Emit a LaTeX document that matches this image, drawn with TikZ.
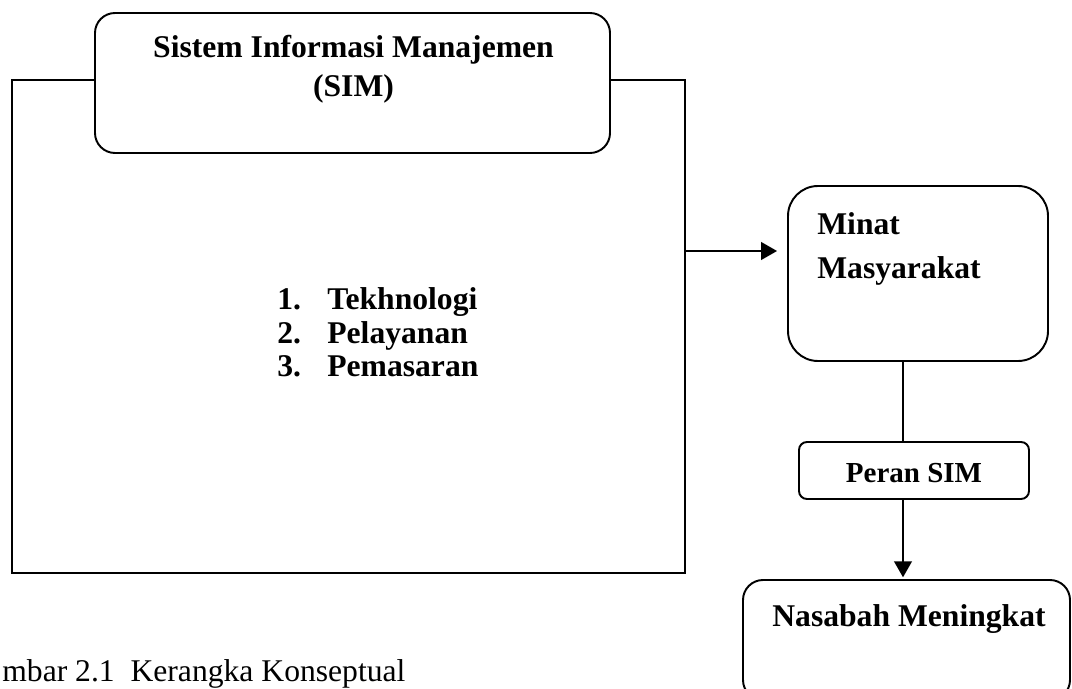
\documentclass[tikz,border=0pt]{standalone}
\usepackage{fontspec}
\setmainfont{Liberation Serif}
\usetikzlibrary{arrows.meta}

\tikzset{
    box/.style={draw, line width=1.1pt, minimum width=#1, inner sep=0pt},
    txt/.style={font=\fontsize{18}{22}\selectfont\bfseries, anchor=base, inner sep=0pt},
    conn/.style={line width=1.1pt},
    arr/.style={conn, -{Triangle[length=9pt, width=10pt]}}
}

\begin{document}
\begin{tikzpicture}[x=0.02cm, y=-0.02cm]
    \useasboundingbox (0,0) rectangle (1072,689);
    \clip (0,0) rectangle (1072,689);
    \fill [white] (0,0) rectangle (1072,689);
    % boxes
    \node [box=673*0.02cm, minimum height=493*0.02cm] (main) at (348.5,326.5) {};
    \node [box=515*0.02cm, minimum height=140*0.02cm, rounded corners=0.4cm, fill=white] (sim) at (352.5,83) {};
    \node [box=260*0.02cm, minimum height=175*0.02cm, rounded corners=0.6cm] (minat) at (918,273.5) {};
    \node [box=230*0.02cm, minimum height=57*0.02cm, rounded corners=0.16cm] (peran) at (914,470.5) {};
    \node [box=327*0.02cm, minimum height=120*0.02cm, rounded corners=0.4cm] (nasabah) at (906.5,640) {};
    % texts
    \node [txt] (simA) at (353.5,58) {Sistem Informasi Manajemen};
    \node [txt] (simB) at (353.5,97) {(SIM)};
    \foreach \n/\item/\y in {1/Tekhnologi/310, 2/Pelayanan/343, 3/Pemasaran/377} {
        \node [txt, anchor=base west] (num\n) at (277,\y) {\n.};
        \node [txt, anchor=base west] (item\n) at (327,\y) {\item};
    }
    \node [txt, anchor=base west] (minatA) at (817,235) {Minat};
    \node [txt, anchor=base west] (minatB) at (817,278) {Masyarakat};
    \node [txt, font=\fontsize{16.5}{20}\selectfont\bfseries] (peranT) at (914,482) {Peran SIM};
    \node [txt] (nasabahT) at (909,626) {Nasabah Meningkat};
    \node [txt, font=\fontsize{18}{22}\selectfont, anchor=base west] (caption) at (2,681) {mbar 2.1\ \ Kerangka Konseptual};
    % connectors
    \coordinate (h) at (0,251);
    \coordinate (v) at (903,0);
    \draw [arr, shorten >=0.2cm] (main.east |- h) -- (minat.west |- h);
    \draw [conn] (minat.south -| v) -- (peran.north -| v);
    \draw [arr, shorten >=1pt] (peran.south -| v) -- (nasabah.north -| v);
\end{tikzpicture}
\end{document}
